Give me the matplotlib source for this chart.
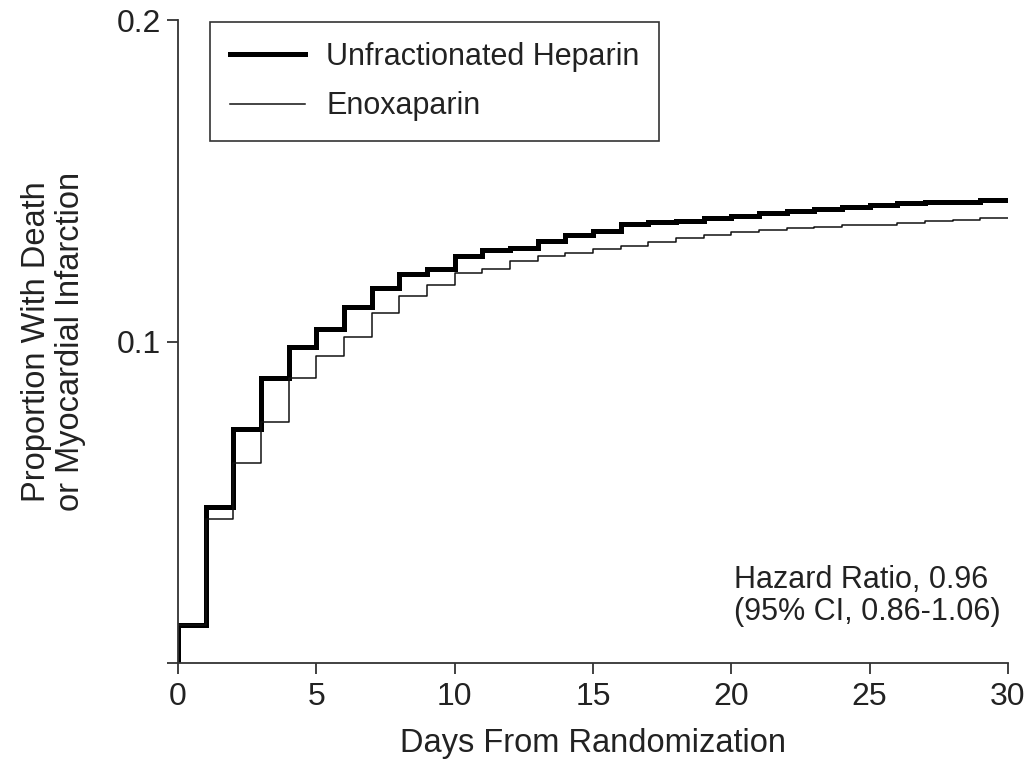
import numpy as np
import matplotlib.pyplot as plt

plt.rcParams['font.family'] = ['Liberation Sans', 'DejaVu Sans']

days = np.arange(0, 31)
# proportion for each day interval [d, d+1)
heparin = [0.0118, 0.0486, 0.0727, 0.0887, 0.0982, 0.1038, 0.1108, 0.1167,
           0.1210, 0.1225, 0.1267, 0.1285, 0.1292, 0.1313, 0.1331, 0.1344,
           0.1365, 0.1371, 0.1375, 0.1383, 0.1391, 0.1399, 0.1407, 0.1412,
           0.1417, 0.1425, 0.1430, 0.1433, 0.1435, 0.1440]
enoxaparin = [0.0118, 0.0447, 0.0623, 0.0751, 0.0885, 0.0955, 0.1013, 0.1089,
              0.1142, 0.1176, 0.1212, 0.1225, 0.1249, 0.1267, 0.1274, 0.1287,
              0.1297, 0.1309, 0.1321, 0.1331, 0.1340, 0.1346, 0.1352, 0.1357,
              0.1362, 0.1362, 0.1369, 0.1375, 0.1379, 0.1383]

txt = '#222222'
fig = plt.figure(figsize=(10.3, 7.59), dpi=100)
ax = fig.add_axes([0.1728, 0.1265, 0.8058, 0.8471])

x = np.r_[0, days]
ax.step(x, np.r_[0, heparin, heparin[-1]], where='post', color='black',
        lw=3.6, label='Unfractionated Heparin', solid_joinstyle='miter')
ax.step(x, np.r_[0, enoxaparin, enoxaparin[-1]], where='post', color='#111111',
        lw=1.1, label='Enoxaparin')

ax.set_xlim(0, 30)
ax.set_ylim(0, 0.2)
ax.set_xticks([0, 5, 10, 15, 20, 25, 30])
ax.set_yticks([0, 0.1, 0.2])
ax.set_yticklabels(['', '0.1', '0.2'])

for s in ['top', 'right']:
    ax.spines[s].set_visible(False)
for s in ['left', 'bottom']:
    ax.spines[s].set_color('#333333')
    ax.spines[s].set_linewidth(1.3)
ax.tick_params(axis='both', length=8, width=1.3, color='#333333',
               labelsize=23, labelcolor=txt)
ax.tick_params(axis='y', pad=4)
ax.tick_params(axis='x', pad=6)

ax.set_xlabel('Days From Randomization', fontsize=23.5, color=txt, labelpad=11)
ax.set_ylabel('Proportion With Death\nor Myocardial Infarction', fontsize=23.5,
              color=txt, labelpad=22, linespacing=1.15)

ax.text(20.1, 0.0305, 'Hazard Ratio, 0.96\n(95% CI, 0.86-1.06)', fontsize=22,
        color=txt, va='top', ha='left', linespacing=1.1)

leg = ax.legend(loc='upper left', bbox_to_anchor=(0.0386, 0.997),
                borderaxespad=0, fancybox=False, fontsize=22, handlelength=2.45,
                borderpad=0.65, labelspacing=0.64, handletextpad=0.7)
leg.get_frame().set_edgecolor('black')
leg.get_frame().set_linewidth(1.2)
for t in leg.get_texts():
    t.set_color(txt)

fig.savefig('out.png', dpi=100)
